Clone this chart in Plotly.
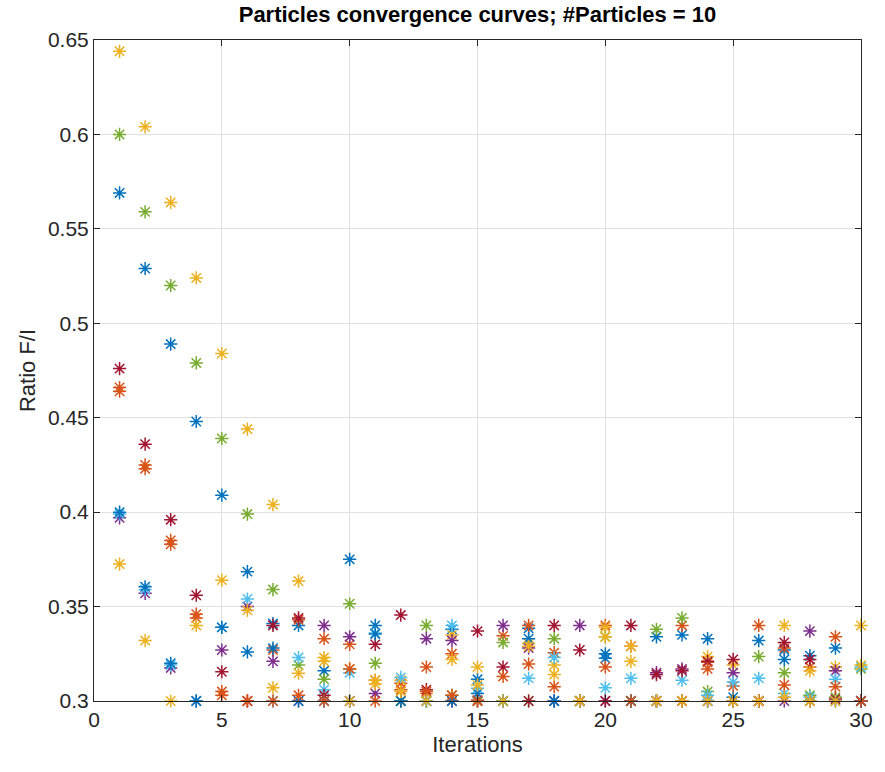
import plotly.graph_objects as go

iterations = list(range(1, 31))

blue_a = [0.569, 0.529, 0.489, 0.448, 0.409, 0.3685, 0.341, 0.340, 0.316, 0.375,
          0.340, 0.300, 0.300, 0.338, 0.3115, 0.300, 0.3385, 0.300, 0.300, 0.325,
          0.300, 0.334, 0.335, 0.333, 0.302, 0.332, 0.327, 0.324, 0.328, 0.300]
orange_a = [0.466, 0.425, 0.385, 0.346, 0.305, 0.300, 0.327, 0.343, 0.333, 0.330,
            0.311, 0.3094, 0.318, 0.325, 0.3005, 0.3345, 0.340, 0.3256, 0.300, 0.340,
            0.329, 0.300, 0.340, 0.3205, 0.308, 0.340, 0.328, 0.318, 0.334, 0.300]
yellow_a = [0.644, 0.604, 0.564, 0.524, 0.484, 0.444, 0.404, 0.3635, 0.323, 0.317,
            0.311, 0.311, 0.304, 0.335, 0.318, 0.300, 0.3305, 0.319, 0.300, 0.339,
            0.329, 0.300, 0.300, 0.3235, 0.319, 0.300, 0.340, 0.316, 0.318, 0.340]
purple = [0.397, 0.357, 0.3175, 0.300, 0.327, 0.350, 0.321, 0.300, 0.340, 0.334,
          0.304, 0.300, 0.333, 0.332, 0.300, 0.340, 0.328, 0.300, 0.340, 0.300,
          0.300, 0.315, 0.317, 0.300, 0.315, 0.300, 0.300, 0.337, 0.316, 0.300]
green = [0.600, 0.559, 0.520, 0.479, 0.439, 0.399, 0.359, 0.319, 0.3115, 0.3515,
         0.320, 0.300, 0.340, 0.303, 0.300, 0.331, 0.300, 0.333, 0.300, 0.334,
         0.300, 0.338, 0.344, 0.305, 0.300, 0.3235, 0.315, 0.303, 0.302, 0.317]
light_blue = [0.399, 0.359, 0.319, 0.300, 0.339, 0.354, 0.300, 0.323, 0.306, 0.315,
              0.336, 0.3125, 0.300, 0.340, 0.3067, 0.300, 0.312, 0.323, 0.300, 0.307,
              0.312, 0.300, 0.311, 0.303, 0.310, 0.312, 0.304, 0.302, 0.3115, 0.318]
dark_red = [0.476, 0.436, 0.396, 0.356, 0.3155, 0.300, 0.340, 0.344, 0.303, 0.300,
            0.330, 0.3455, 0.306, 0.300, 0.337, 0.318, 0.300, 0.340, 0.327, 0.300,
            0.340, 0.314, 0.316, 0.321, 0.322, 0.300, 0.331, 0.322, 0.301, 0.300]
blue_b = [0.400, 0.3605, 0.320, 0.300, 0.339, 0.326, 0.328, 0.300, 0.300, 0.300,
          0.3355, 0.300, 0.300, 0.300, 0.304, 0.300, 0.333, 0.300, 0.300, 0.3226,
          0.300, 0.300, 0.300, 0.300, 0.300, 0.300, 0.322, 0.300, 0.300, 0.300]
orange_b = [0.464, 0.423, 0.383, 0.344, 0.303, 0.300, 0.300, 0.303, 0.300, 0.317,
            0.300, 0.306, 0.305, 0.303, 0.300, 0.313, 0.3196, 0.3076, 0.300, 0.318,
            0.300, 0.300, 0.300, 0.317, 0.300, 0.300, 0.3085, 0.300, 0.3076, 0.300]
yellow_b = [0.3725, 0.332, 0.300, 0.340, 0.364, 0.348, 0.307, 0.3147, 0.321, 0.300,
            0.309, 0.305, 0.300, 0.322, 0.3085, 0.300, 0.329, 0.314, 0.300, 0.334,
            0.321, 0.300, 0.300, 0.300, 0.300, 0.300, 0.302, 0.300, 0.300, 0.319]

particles = [blue_a, orange_a, yellow_a, purple, green, light_blue, dark_red,
             blue_b, orange_b, yellow_b]
colors = ["#0072BD", "#D95319", "#EDB120", "#7E2F8E", "#77AC30", "#4DBEEE",
          "#A2142F", "#0072BD", "#D95319", "#EDB120"]

x_ticks = [0, 5, 10, 15, 20, 25, 30]
y_ticks = [0.3, 0.35, 0.4, 0.45, 0.5, 0.55, 0.6, 0.65]
y_tick_labels = ["0.3", "0.35", "0.4", "0.45", "0.5", "0.55", "0.6", "0.65"]

fig = go.Figure()
for vals, col in zip(particles, colors):
    fig.add_trace(go.Scatter(
        x=iterations, y=vals, mode="markers",
        marker=dict(symbol="asterisk-open", size=11, color=col,
                    line=dict(color=col, width=1.5)),
        cliponaxis=False, showlegend=False))

axis_col = "#262626"
fig.update_layout(
    width=885, height=772,
    margin=dict(l=94, r=13, t=40, b=71),
    paper_bgcolor="white", plot_bgcolor="white",
    font=dict(family="Liberation Sans, Arial, sans-serif", color=axis_col),
    title=dict(text="<b>Particles convergence curves; #Particles = 10</b>",
               x=0.5, xanchor="center", xref="paper", y=0.981, yanchor="middle",
               font=dict(size=22, color="#000000")),
)
fig.update_xaxes(
    range=[0, 30], tickvals=x_ticks, ticks="inside", ticklen=6,
    tickcolor=axis_col, showline=True, linecolor=axis_col, linewidth=1,
    mirror="ticks", showgrid=True, gridcolor="#e0e0e0", gridwidth=1,
    zeroline=False, tickfont=dict(size=21, color=axis_col),
    title=dict(text="Iterations", font=dict(size=22, color=axis_col), standoff=6),
)
fig.update_yaxes(
    range=[0.3, 0.65], tickvals=y_ticks, ticktext=y_tick_labels, ticks="inside",
    ticklen=6, tickcolor=axis_col, showline=True, linecolor=axis_col, linewidth=1,
    mirror="ticks", showgrid=True, gridcolor="#e0e0e0", gridwidth=1,
    zeroline=False, tickfont=dict(size=21, color=axis_col),
    title=dict(text="Ratio F/I", font=dict(size=22, color=axis_col), standoff=6),
)

fig.write_html("out.html")
